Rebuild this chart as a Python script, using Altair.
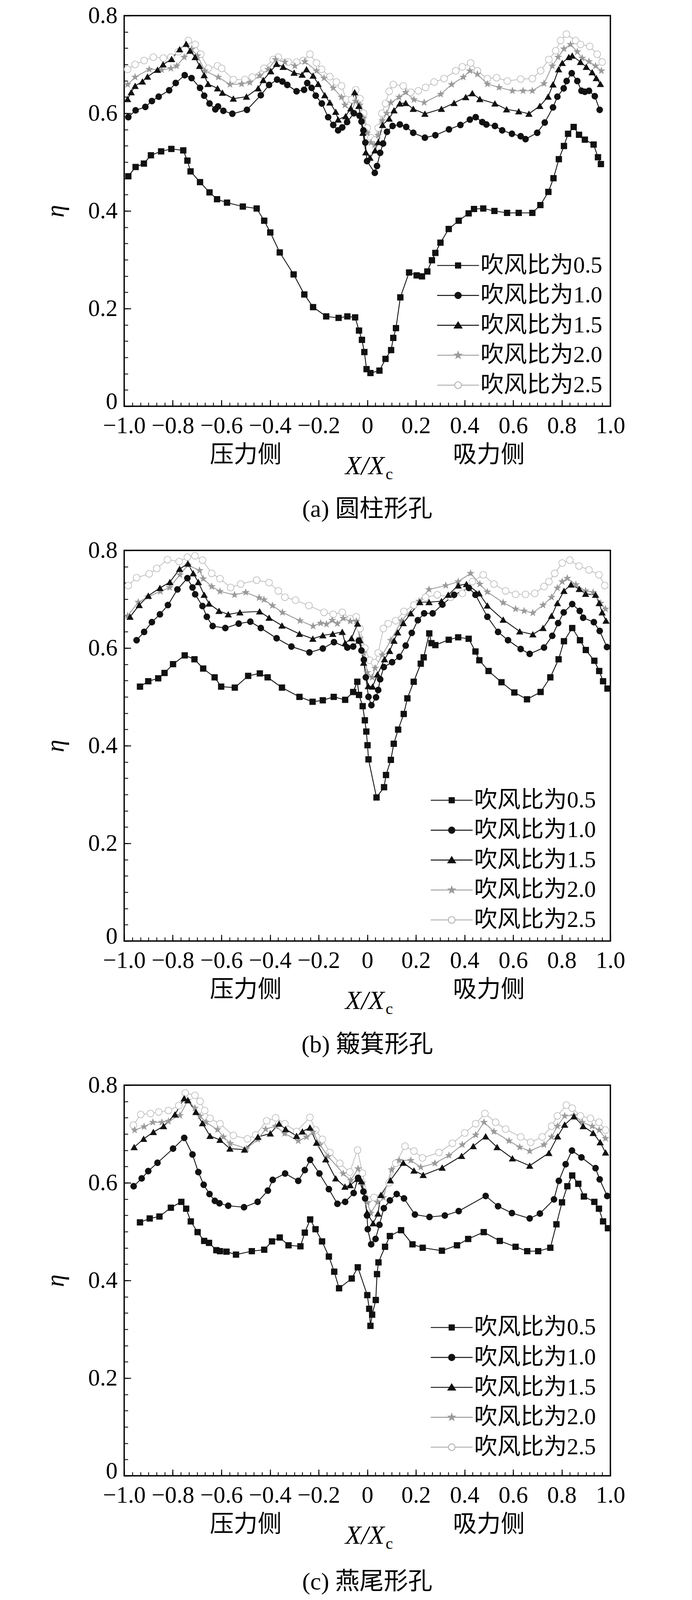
import altair as alt
import pandas as pd

SERIF = "'Liberation Serif', 'Noto Sans CJK SC', serif"
CJK = "'Noto Sans CJK SC', sans-serif"

SERIES = ["吹风比为0.5", "吹风比为1.0", "吹风比为1.5", "吹风比为2.0", "吹风比为2.5"]
CAPTIONS = ["(a) 圆柱形孔", "(b) 簸箕形孔", "(c) 燕尾形孔"]
SIDES = ["压力侧", "吸力侧"]
SIDE_POS = [-0.5, 0.5]
X_MAJOR = [-1.0, -0.8, -0.6, -0.4, -0.2, 0.0, 0.2, 0.4, 0.6, 0.8, 1.0]
Y_MAJOR = [0.0, 0.2, 0.4, 0.6, 0.8]
X_MINOR = [round(-1 + k / 30, 4) for k in range(61)]
Y_MINOR = [round(k / 30, 4) for k in range(25)]

# ---------------- (a) cylindrical hole ----------------
A05_X = [-0.983,-0.953,-0.919,-0.890,-0.848,-0.806,-0.757,-0.740,-0.727,-0.688,-0.649,-0.618,-0.577,-0.512,-0.455,-0.424,-0.399,-0.360,-0.303,-0.259,-0.223,-0.169,-0.118,-0.082,-0.050,-0.034,-0.022,-0.012,-0.003,0.013,0.050,0.075,0.098,0.107,0.118,0.136,0.172,0.203,0.225,0.247,0.266,0.280,0.301,0.335,0.376,0.417,0.439,0.477,0.523,0.575,0.623,0.679,0.712,0.745,0.766,0.788,0.809,0.826,0.849,0.871,0.895,0.931,0.949,0.961]
A05_Y = [0.471,0.490,0.497,0.514,0.522,0.527,0.524,0.503,0.481,0.459,0.438,0.424,0.417,0.409,0.405,0.380,0.356,0.315,0.270,0.229,0.203,0.184,0.181,0.184,0.182,0.155,0.136,0.111,0.076,0.068,0.073,0.097,0.115,0.140,0.160,0.223,0.274,0.268,0.266,0.276,0.299,0.314,0.335,0.363,0.380,0.395,0.404,0.405,0.400,0.396,0.396,0.396,0.412,0.439,0.467,0.506,0.533,0.558,0.572,0.556,0.546,0.536,0.510,0.496]
A10_X = [-0.983,-0.953,-0.913,-0.886,-0.858,-0.815,-0.788,-0.751,-0.723,-0.688,-0.671,-0.649,-0.625,-0.614,-0.592,-0.555,-0.495,-0.438,-0.404,-0.371,-0.349,-0.329,-0.291,-0.260,-0.247,-0.229,-0.212,-0.187,-0.161,-0.140,-0.120,-0.103,-0.083,-0.055,-0.032,-0.024,-0.016,-0.008,-0.001,0.031,0.040,0.053,0.065,0.081,0.104,0.134,0.160,0.189,0.237,0.280,0.336,0.383,0.422,0.446,0.473,0.490,0.525,0.555,0.595,0.631,0.651,0.699,0.730,0.764,0.782,0.808,0.820,0.841,0.864,0.881,0.895,0.912,0.936,0.956]
A10_Y = [0.592,0.606,0.613,0.625,0.634,0.647,0.662,0.678,0.672,0.652,0.636,0.620,0.608,0.614,0.605,0.599,0.607,0.637,0.658,0.669,0.665,0.658,0.645,0.648,0.662,0.652,0.636,0.620,0.592,0.576,0.565,0.571,0.582,0.600,0.595,0.583,0.565,0.540,0.502,0.478,0.492,0.519,0.538,0.562,0.574,0.577,0.572,0.560,0.550,0.555,0.567,0.576,0.587,0.592,0.582,0.577,0.574,0.565,0.558,0.553,0.547,0.560,0.581,0.612,0.634,0.651,0.666,0.682,0.666,0.646,0.644,0.646,0.635,0.607]
A15_X = [-0.986,-0.971,-0.955,-0.925,-0.904,-0.863,-0.840,-0.805,-0.772,-0.745,-0.729,-0.708,-0.690,-0.671,-0.655,-0.616,-0.596,-0.551,-0.497,-0.449,-0.428,-0.397,-0.373,-0.346,-0.301,-0.268,-0.250,-0.223,-0.202,-0.175,-0.154,-0.130,-0.120,-0.089,-0.068,-0.052,-0.035,-0.018,-0.006,0.011,0.032,0.045,0.063,0.090,0.110,0.134,0.158,0.189,0.237,0.305,0.357,0.405,0.432,0.463,0.525,0.573,0.623,0.665,0.710,0.744,0.764,0.787,0.802,0.829,0.843,0.877,0.901,0.925,0.942,0.959]
A15_Y = [0.629,0.643,0.656,0.665,0.675,0.689,0.700,0.711,0.731,0.742,0.728,0.715,0.697,0.678,0.660,0.651,0.642,0.630,0.634,0.651,0.668,0.686,0.701,0.695,0.683,0.679,0.690,0.677,0.660,0.637,0.622,0.603,0.587,0.594,0.610,0.643,0.615,0.560,0.520,0.509,0.524,0.541,0.576,0.589,0.606,0.620,0.621,0.609,0.599,0.609,0.621,0.633,0.641,0.629,0.620,0.608,0.604,0.599,0.615,0.634,0.659,0.690,0.703,0.715,0.718,0.705,0.695,0.684,0.672,0.660]
A20_X = [-0.986,-0.955,-0.897,-0.846,-0.808,-0.784,-0.753,-0.723,-0.699,-0.668,-0.613,-0.565,-0.517,-0.483,-0.442,-0.408,-0.377,-0.339,-0.298,-0.257,-0.209,-0.178,-0.140,-0.106,-0.092,-0.065,-0.048,-0.031,-0.015,0.000,0.015,0.030,0.045,0.062,0.080,0.097,0.131,0.158,0.192,0.234,0.302,0.347,0.395,0.422,0.453,0.494,0.542,0.597,0.641,0.679,0.727,0.761,0.785,0.809,0.836,0.864,0.884,0.912,0.939,0.963]
A20_Y = [0.659,0.674,0.690,0.689,0.692,0.697,0.715,0.731,0.718,0.687,0.674,0.659,0.660,0.663,0.677,0.690,0.710,0.705,0.697,0.706,0.687,0.672,0.652,0.633,0.617,0.604,0.625,0.617,0.590,0.560,0.540,0.535,0.555,0.585,0.600,0.622,0.633,0.643,0.628,0.622,0.639,0.659,0.674,0.687,0.680,0.660,0.653,0.646,0.646,0.646,0.661,0.697,0.715,0.732,0.741,0.726,0.713,0.706,0.697,0.687]
A25_X = [-0.986,-0.955,-0.918,-0.880,-0.839,-0.808,-0.777,-0.736,-0.708,-0.685,-0.654,-0.616,-0.599,-0.551,-0.503,-0.473,-0.425,-0.387,-0.366,-0.325,-0.291,-0.264,-0.236,-0.209,-0.188,-0.154,-0.127,-0.106,-0.086,-0.065,-0.048,-0.030,-0.015,0.000,0.015,0.030,0.045,0.060,0.075,0.090,0.107,0.148,0.179,0.210,0.240,0.275,0.316,0.364,0.391,0.425,0.453,0.494,0.532,0.576,0.631,0.679,0.713,0.747,0.775,0.795,0.819,0.857,0.877,0.915,0.946,0.966]
A25_Y = [0.690,0.700,0.708,0.715,0.713,0.715,0.726,0.749,0.741,0.721,0.692,0.697,0.692,0.669,0.669,0.674,0.692,0.710,0.715,0.705,0.705,0.708,0.721,0.703,0.690,0.675,0.664,0.656,0.628,0.628,0.648,0.630,0.600,0.570,0.550,0.545,0.570,0.600,0.620,0.645,0.659,0.656,0.643,0.646,0.653,0.664,0.671,0.687,0.695,0.703,0.687,0.671,0.673,0.666,0.670,0.671,0.687,0.710,0.728,0.749,0.762,0.749,0.741,0.737,0.721,0.705]

# ---------------- (b) dustpan-shaped hole ----------------
B05_X = [-0.935,-0.901,-0.860,-0.834,-0.799,-0.751,-0.711,-0.675,-0.628,-0.601,-0.545,-0.490,-0.442,-0.410,-0.351,-0.279,-0.225,-0.183,-0.138,-0.091,-0.058,-0.041,-0.034,-0.019,-0.010,-0.004,0.001,0.005,0.038,0.069,0.077,0.097,0.109,0.127,0.150,0.165,0.191,0.220,0.232,0.255,0.264,0.280,0.335,0.374,0.417,0.445,0.461,0.499,0.552,0.605,0.657,0.713,0.753,0.787,0.809,0.843,0.875,0.899,0.934,0.954,0.970,0.988]
B05_Y = [0.521,0.532,0.538,0.549,0.567,0.585,0.577,0.558,0.540,0.521,0.519,0.543,0.548,0.540,0.519,0.500,0.490,0.493,0.500,0.494,0.510,0.531,0.504,0.481,0.452,0.429,0.401,0.372,0.294,0.315,0.340,0.371,0.404,0.433,0.465,0.497,0.531,0.568,0.581,0.630,0.610,0.606,0.617,0.622,0.619,0.593,0.575,0.553,0.530,0.509,0.495,0.510,0.540,0.577,0.614,0.641,0.616,0.596,0.574,0.553,0.532,0.517]
B10_X = [-0.949,-0.918,-0.886,-0.853,-0.820,-0.781,-0.740,-0.719,-0.708,-0.678,-0.660,-0.636,-0.584,-0.529,-0.481,-0.438,-0.373,-0.312,-0.238,-0.183,-0.137,-0.082,-0.058,-0.035,-0.024,-0.014,-0.006,0.005,0.017,0.036,0.045,0.053,0.068,0.102,0.132,0.158,0.183,0.208,0.234,0.269,0.309,0.357,0.418,0.445,0.494,0.538,0.579,0.631,0.668,0.727,0.761,0.785,0.808,0.843,0.874,0.888,0.932,0.956,0.986]
B10_Y = [0.616,0.633,0.653,0.669,0.688,0.720,0.743,0.724,0.710,0.686,0.664,0.645,0.641,0.650,0.654,0.641,0.620,0.603,0.591,0.599,0.612,0.601,0.603,0.615,0.595,0.576,0.540,0.500,0.483,0.499,0.514,0.536,0.561,0.571,0.582,0.605,0.631,0.657,0.671,0.671,0.689,0.709,0.723,0.709,0.664,0.633,0.616,0.598,0.588,0.601,0.625,0.651,0.673,0.690,0.676,0.662,0.653,0.635,0.602]
B15_X = [-0.976,-0.938,-0.901,-0.853,-0.812,-0.772,-0.738,-0.716,-0.695,-0.671,-0.651,-0.610,-0.572,-0.524,-0.443,-0.404,-0.351,-0.279,-0.224,-0.183,-0.142,-0.103,-0.091,-0.065,-0.040,-0.030,-0.015,0.004,0.022,0.042,0.071,0.092,0.110,0.125,0.148,0.179,0.216,0.254,0.305,0.333,0.374,0.408,0.460,0.494,0.559,0.627,0.681,0.723,0.758,0.782,0.809,0.838,0.872,0.898,0.939,0.954,0.966,0.982]
B15_Y = [0.664,0.688,0.707,0.723,0.735,0.762,0.773,0.753,0.735,0.709,0.691,0.676,0.669,0.673,0.675,0.662,0.646,0.629,0.619,0.626,0.629,0.633,0.610,0.620,0.650,0.616,0.570,0.522,0.521,0.546,0.577,0.594,0.615,0.632,0.651,0.671,0.694,0.694,0.696,0.709,0.728,0.731,0.712,0.687,0.658,0.634,0.628,0.641,0.666,0.692,0.717,0.730,0.721,0.711,0.709,0.692,0.673,0.656]
B20_X = [-0.986,-0.942,-0.901,-0.851,-0.813,-0.771,-0.738,-0.690,-0.675,-0.640,-0.606,-0.546,-0.500,-0.445,-0.425,-0.390,-0.349,-0.277,-0.223,-0.192,-0.168,-0.144,-0.123,-0.099,-0.070,-0.045,-0.030,-0.015,0.000,0.020,0.032,0.062,0.097,0.141,0.213,0.254,0.323,0.374,0.425,0.463,0.494,0.559,0.610,0.645,0.681,0.723,0.758,0.782,0.802,0.823,0.858,0.898,0.929,0.960,0.980]
B20_Y = [0.666,0.694,0.705,0.716,0.724,0.750,0.770,0.759,0.742,0.726,0.716,0.709,0.714,0.703,0.699,0.687,0.673,0.656,0.645,0.651,0.649,0.657,0.650,0.661,0.655,0.655,0.620,0.590,0.550,0.540,0.559,0.586,0.616,0.656,0.696,0.720,0.728,0.736,0.753,0.731,0.715,0.693,0.680,0.676,0.672,0.688,0.704,0.723,0.736,0.743,0.730,0.717,0.714,0.692,0.680]
B25_X = [-0.983,-0.949,-0.897,-0.866,-0.822,-0.774,-0.740,-0.709,-0.678,-0.640,-0.606,-0.562,-0.521,-0.455,-0.404,-0.366,-0.339,-0.295,-0.240,-0.178,-0.140,-0.103,-0.070,-0.045,-0.030,-0.010,0.010,0.030,0.045,0.066,0.086,0.117,0.151,0.192,0.240,0.288,0.343,0.391,0.432,0.477,0.521,0.569,0.610,0.651,0.689,0.727,0.747,0.771,0.802,0.833,0.871,0.912,0.953,0.977]
B25_Y = [0.728,0.744,0.752,0.763,0.781,0.777,0.786,0.789,0.780,0.753,0.742,0.724,0.731,0.739,0.734,0.717,0.704,0.698,0.687,0.673,0.669,0.673,0.660,0.664,0.640,0.600,0.575,0.570,0.590,0.640,0.650,0.656,0.675,0.688,0.704,0.709,0.704,0.712,0.736,0.750,0.731,0.717,0.710,0.710,0.712,0.726,0.736,0.753,0.774,0.780,0.768,0.760,0.750,0.728]

# ---------------- (c) dovetail hole ----------------
C05_X = [-0.935,-0.895,-0.855,-0.808,-0.765,-0.745,-0.726,-0.698,-0.671,-0.651,-0.621,-0.606,-0.579,-0.540,-0.475,-0.424,-0.392,-0.360,-0.324,-0.275,-0.257,-0.235,-0.213,-0.186,-0.158,-0.136,-0.116,-0.064,-0.039,0.000,0.008,0.013,0.020,0.035,0.040,0.046,0.073,0.093,0.139,0.186,0.228,0.307,0.369,0.415,0.479,0.545,0.610,0.658,0.703,0.753,0.778,0.801,0.823,0.843,0.868,0.891,0.934,0.953,0.970,0.990]
C05_Y = [0.519,0.527,0.531,0.549,0.561,0.547,0.521,0.499,0.481,0.477,0.462,0.460,0.459,0.453,0.460,0.463,0.480,0.488,0.472,0.470,0.498,0.525,0.505,0.480,0.449,0.418,0.384,0.404,0.427,0.370,0.342,0.307,0.330,0.360,0.413,0.437,0.469,0.491,0.503,0.474,0.467,0.461,0.472,0.485,0.499,0.481,0.469,0.460,0.460,0.467,0.515,0.560,0.593,0.615,0.598,0.572,0.561,0.547,0.521,0.507]
C10_X = [-0.961,-0.928,-0.901,-0.863,-0.799,-0.753,-0.719,-0.695,-0.673,-0.649,-0.627,-0.608,-0.572,-0.507,-0.451,-0.409,-0.389,-0.338,-0.284,-0.257,-0.235,-0.197,-0.158,-0.123,-0.091,-0.056,-0.038,-0.016,-0.009,-0.001,0.002,0.016,0.034,0.050,0.068,0.093,0.121,0.151,0.196,0.256,0.319,0.376,0.487,0.538,0.595,0.668,0.710,0.768,0.788,0.816,0.842,0.881,0.939,0.956,0.987]
C10_Y = [0.593,0.609,0.624,0.641,0.670,0.692,0.658,0.622,0.596,0.577,0.563,0.558,0.553,0.550,0.561,0.584,0.606,0.619,0.604,0.626,0.647,0.619,0.587,0.557,0.561,0.579,0.610,0.582,0.568,0.533,0.505,0.474,0.485,0.514,0.548,0.564,0.577,0.568,0.535,0.530,0.533,0.542,0.573,0.552,0.538,0.527,0.537,0.566,0.604,0.638,0.666,0.652,0.630,0.607,0.573]
C15_X = [-0.959,-0.920,-0.880,-0.838,-0.791,-0.753,-0.738,-0.705,-0.678,-0.647,-0.606,-0.565,-0.505,-0.450,-0.399,-0.363,-0.336,-0.291,-0.267,-0.236,-0.209,-0.171,-0.130,-0.092,-0.070,-0.040,-0.024,-0.001,0.024,0.044,0.056,0.095,0.148,0.192,0.230,0.308,0.388,0.436,0.487,0.534,0.597,0.668,0.747,0.783,0.812,0.850,0.888,0.929,0.958,0.980]
C15_Y = [0.673,0.690,0.704,0.716,0.740,0.773,0.769,0.745,0.722,0.696,0.688,0.670,0.668,0.694,0.701,0.721,0.710,0.696,0.705,0.713,0.682,0.648,0.609,0.592,0.595,0.608,0.603,0.539,0.517,0.537,0.575,0.605,0.641,0.625,0.616,0.631,0.655,0.675,0.695,0.673,0.650,0.635,0.661,0.695,0.719,0.736,0.716,0.702,0.683,0.662]
C20_X = [-0.957,-0.918,-0.882,-0.845,-0.818,-0.771,-0.738,-0.709,-0.688,-0.664,-0.616,-0.592,-0.564,-0.497,-0.450,-0.418,-0.377,-0.340,-0.284,-0.250,-0.223,-0.195,-0.161,-0.099,-0.068,-0.038,-0.020,0.000,0.014,0.042,0.066,0.100,0.131,0.179,0.220,0.278,0.336,0.391,0.446,0.480,0.521,0.583,0.627,0.668,0.727,0.758,0.782,0.812,0.850,0.884,0.925,0.954,0.980]
C20_Y = [0.708,0.715,0.724,0.724,0.726,0.738,0.769,0.753,0.737,0.724,0.709,0.694,0.681,0.670,0.689,0.710,0.716,0.701,0.686,0.694,0.704,0.678,0.654,0.619,0.605,0.629,0.600,0.560,0.538,0.560,0.570,0.627,0.646,0.646,0.632,0.640,0.656,0.678,0.698,0.724,0.705,0.686,0.673,0.665,0.678,0.694,0.716,0.737,0.738,0.724,0.716,0.708,0.691]
C25_X = [-0.962,-0.932,-0.892,-0.858,-0.818,-0.776,-0.749,-0.709,-0.688,-0.669,-0.647,-0.606,-0.551,-0.493,-0.459,-0.414,-0.377,-0.339,-0.291,-0.236,-0.212,-0.185,-0.154,-0.113,-0.072,-0.040,-0.020,0.004,0.028,0.055,0.090,0.117,0.155,0.192,0.227,0.295,0.350,0.401,0.446,0.484,0.528,0.569,0.631,0.672,0.720,0.758,0.782,0.819,0.843,0.877,0.918,0.953,0.980]
C25_Y = [0.718,0.740,0.742,0.745,0.748,0.758,0.784,0.779,0.767,0.748,0.732,0.721,0.697,0.690,0.698,0.727,0.733,0.721,0.705,0.734,0.708,0.689,0.662,0.640,0.622,0.667,0.620,0.565,0.570,0.570,0.600,0.640,0.675,0.665,0.651,0.662,0.681,0.702,0.721,0.742,0.724,0.710,0.694,0.683,0.694,0.716,0.737,0.759,0.753,0.737,0.732,0.724,0.708]

PANELS = {
    "a": [(A05_X, A05_Y), (A10_X, A10_Y), (A15_X, A15_Y), (A20_X, A20_Y), (A25_X, A25_Y)],
    "b": [(B05_X, B05_Y), (B10_X, B10_Y), (B15_X, B15_Y), (B20_X, B20_Y), (B25_X, B25_Y)],
    "c": [(C05_X, C05_Y), (C10_X, C10_Y), (C15_X, C15_Y), (C20_X, C20_Y), (C25_X, C25_Y)],
}

rows = []
for p, series_list in PANELS.items():
    for i, (xs, ys) in enumerate(series_list):
        for xv, yv in zip(xs, ys):
            rows.append({"panel": p, "series": SERIES[i], "z": 4 - i, "x": xv, "y": yv})
df = pd.DataFrame(rows)
side_df = pd.DataFrame({"label": SIDES, "pos": SIDE_POS})

# ---------------- styles (all pixel sizes scaled by K to fit the visible page) ----------------
K = 0.9574


def s(v):
    return round(v * K, 1)


LINE_COLORS = ["#111111", "#111111", "#111111", "#9a9a9a", "#c4c4c4"]
POINT_FILL = ["#111111", "#111111", "#111111", "#9a9a9a", "#ffffff"]
POINT_STROKE = ["#111111", "#111111", "#111111", "#9a9a9a", "#b4b4b4"]
STAR = ("M0,-1L0.235,-0.324L0.951,-0.309L0.38,0.124L0.588,0.809L0,0.4L-0.588,0.809"
        "L-0.38,0.124L-0.951,-0.309L-0.235,-0.324Z")
POINT_SHAPES = ["square", "circle", "triangle-up", STAR, "circle"]
POINT_SIZES = [round(a * K * K) for a in [235, 330, 360, 400, 340]]
LEGEND_SHAPES = [
    "M-2,0H2M-0.25,-0.25H0.25V0.25H-0.25Z",
    "M-2,0H2M0.3,0A0.3,0.3 0 1,1 -0.3,0A0.3,0.3 0 1,1 0.3,0Z",
    "M-2,0H2M0,-0.32L0.36,0.26L-0.36,0.26Z",
    "M-2,0H2M0,-0.33L0.078,-0.107L0.314,-0.102L0.125,0.041L0.194,0.267L0,0.132"
    "L-0.194,0.267L-0.125,0.041L-0.314,-0.102L-0.078,-0.107Z",
    "M-2,0H-0.32M0.32,0H2M0.32,0A0.32,0.32 0 1,1 -0.32,0A0.32,0.32 0 1,1 0.32,0Z",
]

W, H = round(1300 * K), round(1045 * K)
XS = alt.Scale(domain=[-1, 1], nice=False, zero=False)
YS = alt.Scale(domain=[0, 0.8], nice=False, zero=False)
NUM_LABEL = "datum.value == 0 ? '0' : format(datum.value, '.1f')"

major_x = alt.Axis(values=X_MAJOR, labelExpr=NUM_LABEL, orient="bottom",
                   tickSize={"expr": str(-s(17))}, tickWidth=s(2.5), tickColor="black",
                   labelPadding=s(38.5), labelFont=SERIF, labelFontSize=s(63), labelColor="black",
                   labelLimit=1000, labelFlush=False, labelOverlap=False,
                   domain=False, grid=False, title=None)
minor_x = alt.Axis(values=X_MINOR, orient="bottom", tickSize={"expr": str(-s(10))},
                   tickWidth=s(2.2), tickColor="black", labels=False, domain=False,
                   grid=False, title=None)
major_y = alt.Axis(values=Y_MAJOR, labelExpr=NUM_LABEL, orient="left",
                   tickSize={"expr": str(-s(18))}, tickWidth=s(2.5), tickColor="black",
                   labelPadding=s(36), labelFont=SERIF, labelFontSize=s(63), labelColor="black",
                   labelOffset={"condition": {"test": "datum.value == 0", "value": -11.5}, "value": 0},
                   labelLimit=1000, labelFlush=False, labelOverlap=False,
                   domain=False, grid=False,
                   title="η", titleFont=SERIF, titleFontStyle="italic", titleFontWeight="normal",
                   titleFontSize=s(68), titleColor="black", titlePadding=s(51))
minor_y = alt.Axis(values=Y_MINOR, orient="left", tickSize={"expr": str(-s(10))},
                   tickWidth=s(2.2), tickColor="black", labels=False, domain=False,
                   grid=False, title=None)


def panel(p, idx, legend_x, legend_y, caption_dy):
    base = alt.Chart(df[df["panel"] == p])
    lines = base.mark_line(strokeWidth=s(2.3)).encode(
        x=alt.X("x:Q", scale=XS, axis=major_x),
        y=alt.Y("y:Q", scale=YS, axis=major_y),
        color=alt.Color("series:N", scale=alt.Scale(domain=SERIES, range=LINE_COLORS), legend=None),
    )
    points = base.mark_point(filled=False, opacity=1, strokeWidth=s(1.6)).encode(
        x=alt.X("x:Q", scale=XS, axis=minor_x),
        y=alt.Y("y:Q", scale=YS, axis=minor_y),
        shape=alt.Shape("series:N", scale=alt.Scale(domain=SERIES, range=POINT_SHAPES), legend=None),
        fill=alt.Fill("series:N", scale=alt.Scale(domain=SERIES, range=POINT_FILL), legend=None),
        stroke=alt.Stroke("series:N", scale=alt.Scale(domain=SERIES, range=POINT_STROKE), legend=None),
        size=alt.Size("series:N", scale=alt.Scale(domain=SERIES, range=POINT_SIZES), legend=None),
        order=alt.Order("z:Q"),
    )
    leg = alt.Legend(title=None, orient="none", legendX=s(legend_x), legendY=s(legend_y),
                     labelFont=SERIF, labelFontSize=s(62), labelColor="black", labelOffset=s(29),
                     labelLimit=2000, rowPadding=s(16.3), symbolSize=round(3136 * K * K),
                     symbolStrokeWidth=s(2.5), symbolOpacity=1, padding=0)
    legend_layer = base.transform_filter("false").mark_point(
        filled=False, opacity=1, strokeWidth=s(2.5)).encode(
        x=alt.X("x:Q", scale=XS, axis=None),
        y=alt.Y("y:Q", scale=YS, axis=None),
        shape=alt.Shape("series:N", scale=alt.Scale(domain=SERIES, range=LEGEND_SHAPES), legend=leg),
        fill=alt.Fill("series:N", scale=alt.Scale(domain=SERIES, range=POINT_FILL), legend=leg),
        stroke=alt.Stroke("series:N", scale=alt.Scale(domain=SERIES, range=POINT_STROKE), legend=leg),
    )
    sides = alt.Chart(side_df).mark_text(
        font=CJK, fontSize=s(64), align="center", baseline="middle", color="black").encode(
        x=alt.X("pos:Q", scale=XS, axis=None), y=alt.value(H + s(132)), text="label:N")
    xdat = alt.XDatum(0, type="quantitative", scale=XS, axis=None)
    xt_main = alt.Chart(pd.DataFrame({"t": ["X/X"]})).mark_text(
        font=SERIF, fontStyle="italic", fontSize=s(70), align="right", baseline="alphabetic",
        dx=s(46), color="black").encode(x=xdat, y=alt.value(H + s(182)), text="t:N")
    xt_sub = alt.Chart(pd.DataFrame({"t": ["c"]})).mark_text(
        font=SERIF, fontSize=s(44), align="left", baseline="alphabetic",
        dx=s(49), color="black").encode(x=xdat, y=alt.value(H + s(195)), text="t:N")
    cap = alt.Chart(pd.DataFrame({"t": [CAPTIONS[idx]]})).mark_text(
        font=SERIF, fontSize=s(65), align="center", baseline="middle", color="black").encode(
        x=xdat, y=alt.value(H + s(caption_dy)), text="t:N")
    return alt.layer(lines, points, legend_layer, sides, xt_main, xt_sub, cap).resolve_scale(
        color="independent", shape="independent", fill="independent",
        stroke="independent", size="independent",
    ).resolve_axis(x="independent", y="independent").properties(width=W, height=H)


pa = panel("a", 0, 862, 637, 276)
pb = panel("b", 1, 845, 637, 278)
pc = panel("c", 2, 845, 617, 284)

chart = alt.vconcat(pa, pb, pc, spacing=round(385 * K), bounds="flush").configure_view(
    stroke="black", strokeWidth=s(3.5)
).properties(
    padding={"left": 100, "top": 0, "right": 10, "bottom": 0},
    background="white",
)

chart.save("out.html", embed_options={"renderer": "svg", "actions": False})
